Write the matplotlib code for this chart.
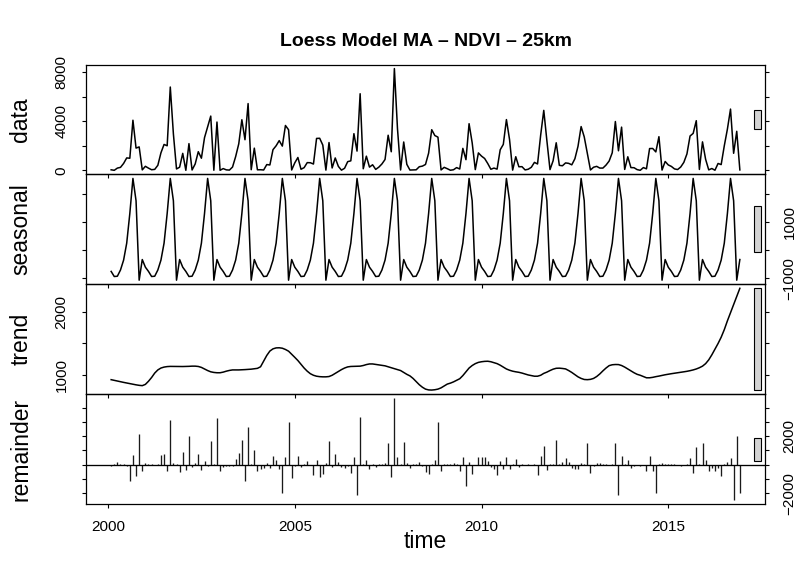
import numpy as np
import matplotlib
matplotlib.use("Agg")
import matplotlib.pyplot as plt
from matplotlib.patches import Rectangle

plt.rcParams['font.family'] = ['Liberation Sans', 'DejaVu Sans']

# ---- STL decomposition of the monthly series (Feb 2000 - Dec 2016) ----
start_year, start_month, frequency = 2000, 2, 12

# periodic seasonal component, Jan .. Dec
seasonal_cycle = [-600, -750, -930, -920, -700, -350, 250, 1300, 2540, 1750, -1060, -330]

trend = [
    925, 914, 904, 893, 882, 872, 862, 852, 843, 835,
    830, 850, 900, 960, 1030, 1080, 1110, 1125, 1133, 1136,
    1136, 1135, 1134, 1134, 1135, 1137, 1140, 1140, 1135, 1120,
    1095, 1070, 1050, 1040, 1035, 1035, 1045, 1060, 1072, 1080,
    1080, 1080, 1082, 1085, 1088, 1092, 1098, 1105, 1130, 1220,
    1310, 1380, 1415, 1430, 1432, 1425, 1405, 1378, 1330, 1280,
    1229, 1170, 1110, 1060, 1020, 995, 980, 973, 970, 970,
    975, 995, 1025, 1055, 1085, 1110, 1128, 1135, 1137, 1138,
    1140, 1150, 1165, 1175, 1175, 1168, 1160, 1152, 1145, 1130,
    1115, 1100, 1085, 1070, 1040, 1010, 985, 945, 895, 845,
    805, 775, 762, 760, 765, 775, 795, 825, 855, 870,
    890, 915, 940, 990, 1050, 1110, 1150, 1180, 1200, 1210,
    1216, 1218, 1210, 1195, 1180, 1155, 1125, 1095, 1075, 1060,
    1050, 1042, 1030, 1015, 1000, 990, 980, 980, 995, 1025,
    1045, 1070, 1092, 1106, 1108, 1103, 1096, 1070, 1040, 1005,
    970, 945, 928, 925, 930, 945, 975, 1016, 1065, 1110,
    1148, 1162, 1166, 1165, 1150, 1125, 1096, 1065, 1035, 1010,
    995, 975, 955, 955, 962, 973, 982, 993, 1003, 1012,
    1020, 1028, 1035, 1042, 1050, 1058, 1068, 1080, 1095, 1115,
    1140, 1180, 1240, 1320, 1410, 1500, 1600, 1720, 1860, 1990,
    2120, 2250, 2377,
]

remainder = [
    -120, 30, 210, 60, 40, -100, -1165, 700, -770, 2145,
    -450, 90, 40, 30, -20, 40, 680, 745, -420, 3120,
    90, 50, -536, 860, -370, 1980, -180, 90, 745, -370,
    280, -60, 1630, 40, 3240, -420, -140, -80, -120, -100,
    400, 840, 1750, -1120, 2610, 30, 1050, -450, -320, -250,
    90, -230, 630, 330, -300, -1980, 510, 3000, -960, -60,
    580, -140, 40, 280, -40, -720, 330, -890, -650, 120,
    1630, -190, 745, 210, -140, -230, -60, -600, 560, -2100,
    3360, 50, 330, -300, 40, -150, 30, 80, 100, 1490,
    -890, 4660, 560, 30, 1610, 90, -200, 30, 80, 160,
    -100, -536, -650, 20, 330, 3000, -420, 30, 40, 80,
    90, 20, -470, 560, -1470, 160, -650, -50, 560, 560,
    510, 280, -190, -300, -720, 280, -300, 510, -300, 30,
    400, -140, 30, -40, 20, -30, 30, -700, 580, 1330,
    -370, 60, 30, 1750, 60, 210, 440, 210, -230, -300,
    -300, 90, 60, 1520, -560, -80, 110, 110, 50, 30,
    -30, 30, 1520, -2100, 630, 20, 350, -230, -60, -10,
    -60, -40, -470, 580, -470, -2000, 20, 100, 60, 40,
    60, 30, -40, -60, -40, 40, 440, -600, 1210, 30,
    1520, 330, -440, -230, -470, -230, -770, 40, 210, 470,
    -2470, 2000, -2000,
]

panel_names = ["data", "seasonal", "trend", "remainder"]

data_ticks = [0, 2000, 4000, 6000, 8000]
data_tick_labels = ["0", "", "4000", "", "8000"]
seasonal_ticks = [-1000, 0, 1000, 2000]
seasonal_tick_labels = ["\u22121000", "", "1000", ""]
trend_ticks = [1000, 1500, 2000]
trend_tick_labels = ["1000", "", "2000"]
remainder_ticks = [-2000, -1000, 0, 1000, 2000, 3000, 4000]
remainder_tick_labels = ["\u22122000", "", "", "", "2000", "", ""]
year_ticks = [2000, 2005, 2010, 2015]

# ---- assemble components ----
n = len(trend)
months_since_jan = start_month - 1 + np.arange(n)
time = start_year + months_since_jan / frequency
seasonal = np.array(seasonal_cycle)[months_since_jan % 12]
trend = np.array(trend, dtype=float)
remainder = np.array(remainder, dtype=float)
data = seasonal + trend + remainder

series = [data, seasonal, trend, remainder]
ticks = [data_ticks, seasonal_ticks, trend_ticks, remainder_ticks]
tick_labels = [data_tick_labels, seasonal_tick_labels, trend_tick_labels, remainder_tick_labels]

ranges = [s.max() - s.min() for s in series]
bar_height = min(ranges)

# ---- figure layout (pixel based) ----
W, H = 797, 576
fig = plt.figure(figsize=(W / 100, H / 100), dpi=100)
left_px, right_px = 86, 765
top_px, bottom_px = 64.5, 504
panel_h = (bottom_px - top_px) / 4

t_span = time.max() - time.min()
xlim = (time.min() - 0.04 * t_span, time.max() + 0.04 * t_span)

for i, (name, y) in enumerate(zip(panel_names, series)):
    y_top = top_px + i * panel_h
    ax = fig.add_axes([left_px / W, 1 - (y_top + panel_h) / H,
                       (right_px - left_px) / W, panel_h / H])
    ax.patch.set_alpha(0)
    if name == "remainder":
        ax.vlines(time, 0, y, color="#1a1a1a", lw=0.95)
        ax.axhline(0, color="black", lw=0.95)
    else:
        ax.plot(time, y, color="black", lw=1.1)

    r = y.max() - y.min()
    ylim = (y.min() - 0.04 * r, y.max() + 0.04 * r)
    ax.set_xlim(xlim)
    ax.set_ylim(ylim)

    # range bar to the right of the panel
    dx = (xlim[1] - xlim[0]) / 64
    yc = (y.max() + y.min()) / 2
    ax.add_patch(Rectangle((xlim[1] - dx, yc - bar_height / 2), 0.6 * dx, bar_height,
                           facecolor="#d3d3d3", edgecolor="black", lw=0.8,
                           clip_on=False, zorder=5))

    for sp in ax.spines.values():
        sp.set_linewidth(0.9)

    labels_right = (i % 2 == 1)
    ax.set_yticks(ticks[i])
    ax.tick_params(axis="y", direction="out", length=2.6, width=0.8,
                   left=True, right=True,
                   labelleft=not labels_right, labelright=labels_right,
                   labelsize=11, pad=10, labelrotation=90)
    ax.set_yticklabels(tick_labels[i], va="center")

    ax.set_xticks(year_ticks)
    ax.tick_params(axis="x", direction="out", length=2.6, width=0.8,
                   bottom=True, top=False, labelbottom=(i == 3),
                   labelsize=11, pad=9)
    if i == 3:
        ax.set_xticklabels([str(v) for v in year_ticks])

    fig.text(21 / W, 1 - (y_top + panel_h / 2) / H, name, rotation=90,
             ha="center", va="center", fontsize=16.5)

fig.text((left_px + right_px) / 2 / W, 1 - 542 / H, "time",
         ha="center", va="center", fontsize=16.5)
fig.text((left_px + right_px) / 2 / W, 1 - 41 / H,
         "Loess Model MA \u2013 NDVI \u2013 25km",
         ha="center", va="center", fontsize=14, fontweight="bold")

fig.savefig("out.png", dpi=100)
